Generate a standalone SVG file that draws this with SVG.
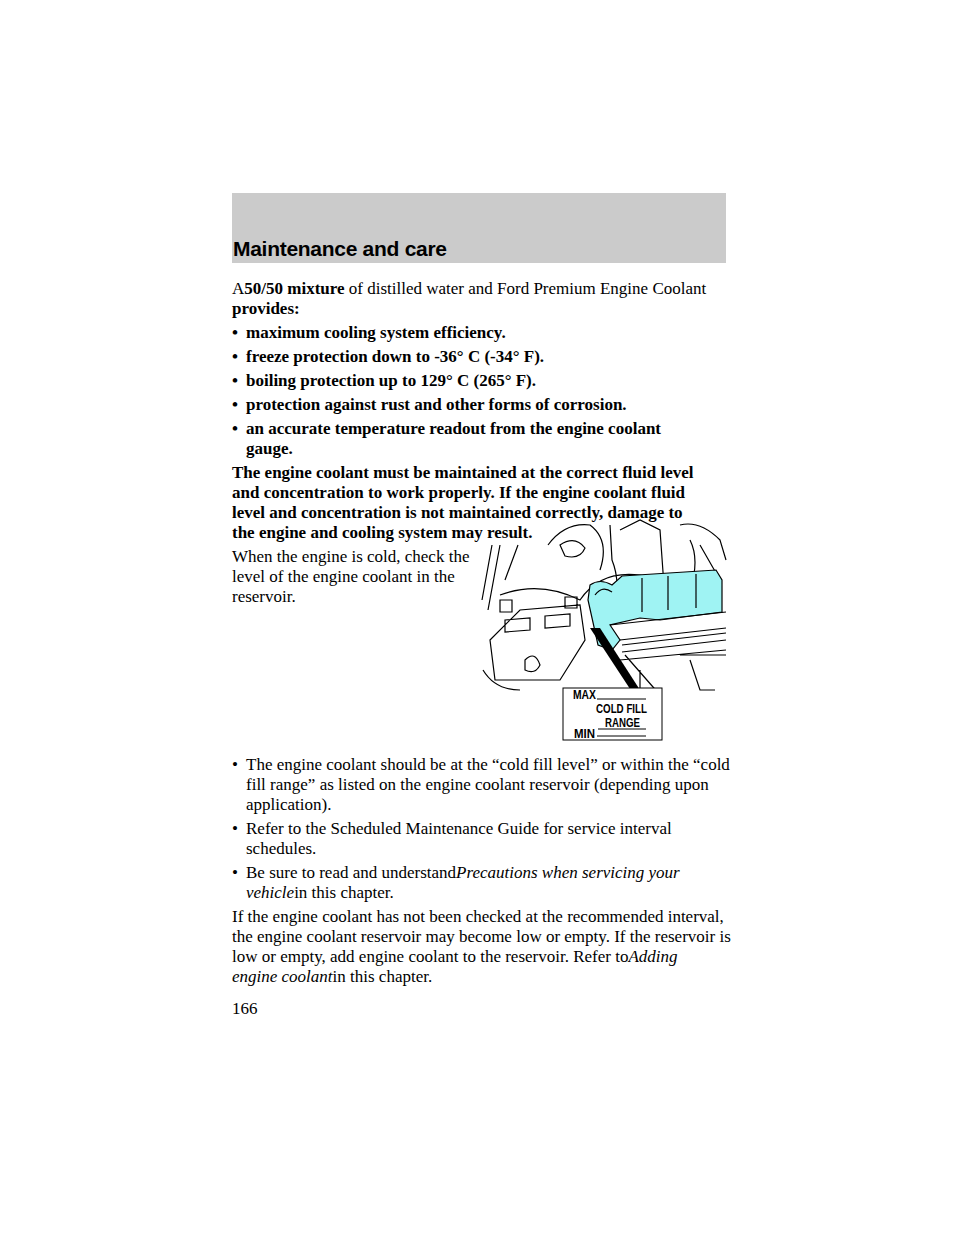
<svg xmlns="http://www.w3.org/2000/svg" width="960" height="1242" viewBox="0 0 960 1242">
<style>
.t{font-family:"Liberation Serif",serif;font-size:17px;fill:#000}
.b{font-weight:bold}
.i{font-style:italic}
.d{fill:none;stroke:#000;stroke-width:1.2}
.lb{font-family:"Liberation Sans",sans-serif;font-weight:bold;font-size:12px;fill:#000}
</style>
<rect width="960" height="1242" fill="#fff"/>
<g id="header">
<rect x="232" y="193" width="494" height="70" fill="#cbcbcb"/>
<text x="233" y="256" font-family="Liberation Sans,sans-serif" font-weight="bold" font-size="21" textLength="214">Maintenance and care</text>
</g>
<g id="body">
<text class="t" x="232" y="294">A<tspan class="b">50/50 mixture</tspan> of distilled water and Ford Premium Engine Coolant</text>
<text class="t b" x="232" y="314">provides:</text>
<text class="t b" x="232" y="338">•</text><text class="t b" x="246" y="338">maximum cooling system efficiency.</text>
<text class="t b" x="232" y="362">•</text><text class="t b" x="246" y="362">freeze protection down to -36° C (-34° F).</text>
<text class="t b" x="232" y="386">•</text><text class="t b" x="246" y="386">boiling protection up to 129° C (265° F).</text>
<text class="t b" x="232" y="410">•</text><text class="t b" x="246" y="410">protection against rust and other forms of corrosion.</text>
<text class="t b" x="232" y="434">•</text><text class="t b" x="246" y="434">an accurate temperature readout from the engine coolant</text>
<text class="t b" x="246" y="454">gauge.</text>
<text class="t b" x="232" y="478">The engine coolant must be maintained at the correct fluid level</text>
<text class="t b" x="232" y="498">and concentration to work properly. If the engine coolant fluid</text>
<text class="t b" x="232" y="518">level and concentration is not maintained correctly, damage to</text>
<text class="t b" x="232" y="538">the engine and cooling system may result.</text>
<text class="t" x="232" y="562">When the engine is cold, check the</text>
<text class="t" x="232" y="582">level of the engine coolant in the</text>
<text class="t" x="232" y="602">reservoir.</text>
<text class="t" x="232" y="770">•</text><text class="t" x="246" y="770">The engine coolant should be at the “cold fill level” or within the “cold</text>
<text class="t" x="246" y="790">fill range” as listed on the engine coolant reservoir (depending upon</text>
<text class="t" x="246" y="810">application).</text>
<text class="t" x="232" y="834">•</text><text class="t" x="246" y="834">Refer to the Scheduled Maintenance Guide for service interval</text>
<text class="t" x="246" y="854">schedules.</text>
<text class="t" x="232" y="878">•</text><text class="t" x="246" y="878">Be sure to read and understand<tspan class="i">Precautions when servicing your</tspan></text>
<text class="t" x="246" y="898"><tspan class="i">vehicle</tspan>in this chapter.</text>
<text class="t" x="232" y="922">If the engine coolant has not been checked at the recommended interval,</text>
<text class="t" x="232" y="942">the engine coolant reservoir may become low or empty. If the reservoir is</text>
<text class="t" x="232" y="962">low or empty, add engine coolant to the reservoir. Refer to<tspan class="i">Adding</tspan></text>
<text class="t" x="232" y="982"><tspan class="i">engine coolant</tspan>in this chapter.</text>
<text class="t" x="232" y="1014">166</text>
</g>
<g id="illustration">
<path class="d" d="M492 545 L482 600 M500 545 L488 610 M518 545 L505 580 M548 545 Q565 522 590 525 Q610 540 600 570 M560 545 Q575 535 585 548 Q580 560 565 556 Z M610 525 L612 560 Q620 580 615 600 M620 530 L640 520 L660 530 L665 600 M680 525 Q700 520 720 540 L726 560 M690 540 Q700 560 690 590 M700 545 L720 580 M500 595 Q540 580 580 600 Q600 570 640 575 Q660 580 700 590"/>
<path class="d" d="M490 640 L520 610 L580 605 L585 640 L560 680 L495 680 Z M505 620 L530 618 L530 630 L505 632 Z M545 616 L570 614 L570 626 L545 628 Z M500 600 L512 600 L512 612 L500 612 Z M565 597 L577 597 L577 608 L565 608 Z"/>
<path class="d" d="M483 670 Q495 690 520 690 M525 660 Q535 650 540 665 Q535 675 525 670 Z"/>
<path d="M588 600 L590 585 Q600 578 612 585 L622 576 L716 570 L722 580 L722 612 L660 620 L640 618 L610 625 L620 640 L612 650 L598 645 Z" fill="#9ff3f3" stroke="#000" stroke-width="1.2"/>
<path class="d" d="M595 595 Q602 585 612 592 M642 578 L642 612 M668 576 L668 610 M696 574 L696 608 M610 625 L726 612"/>
<path class="d" d="M620 640 L726 628 M620 660 L726 650 M622 645 L726 633 M622 652 L726 640 M625 655 L660 695 M640 670 L640 690 M680 655 L726 655 M690 660 L700 690 L715 690"/>
<path d="M590 628 L600 628 L640 690 L632 692 Z" fill="#000"/>
<rect x="563" y="688" width="99" height="52" fill="#fff" stroke="#000" stroke-width="1"/>
<text class="lb" x="573" y="699" font-size="11" textLength="23" lengthAdjust="spacingAndGlyphs">MAX</text>
<line x1="597" y1="699" x2="646" y2="699" stroke="#000"/>
<text class="lb" x="596" y="713" textLength="51" lengthAdjust="spacingAndGlyphs">COLD FILL</text>
<text class="lb" x="605" y="727" textLength="35" lengthAdjust="spacingAndGlyphs">RANGE</text>
<line x1="598" y1="729" x2="646" y2="729" stroke="#000"/>
<text class="lb" x="574" y="738" textLength="21" lengthAdjust="spacingAndGlyphs">MIN</text>
<line x1="597" y1="736" x2="646" y2="736" stroke="#000"/>
</g>
</svg>
